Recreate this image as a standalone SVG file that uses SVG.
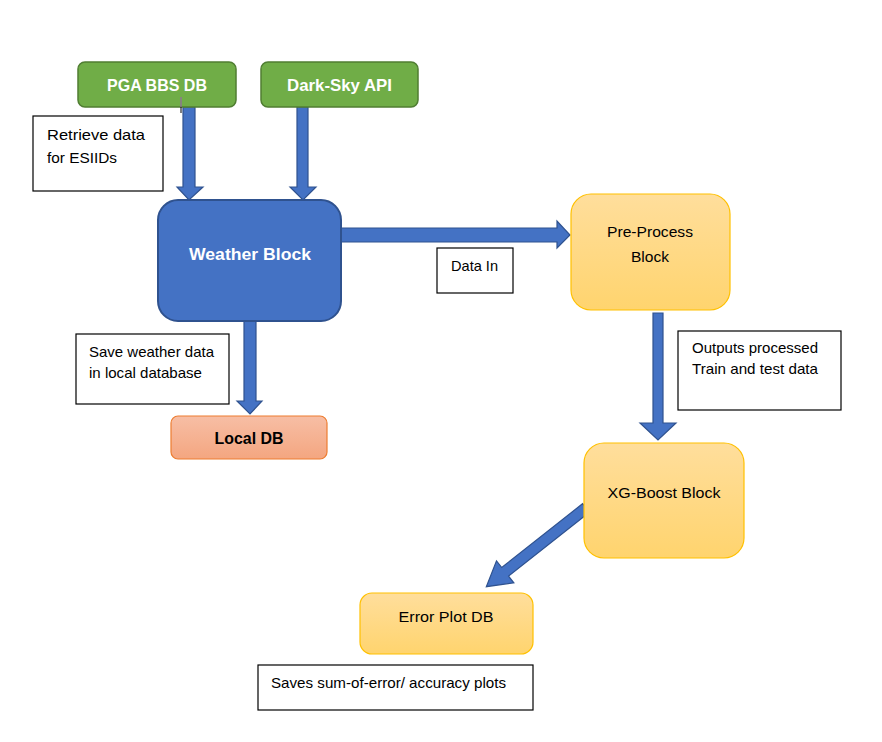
<svg xmlns="http://www.w3.org/2000/svg" width="882" height="742" viewBox="0 0 882 742">
<defs>
<linearGradient id="gold" x1="0" y1="0" x2="0" y2="1">
<stop offset="0" stop-color="#FFDE9C"/>
<stop offset="1" stop-color="#FFD46E"/>
</linearGradient>
<linearGradient id="salmon" x1="0" y1="0" x2="0" y2="1">
<stop offset="0" stop-color="#F7BEA5"/>
<stop offset="1" stop-color="#F4A680"/>
</linearGradient>
<style>
.green{fill:#70AD47;stroke:#507E32;stroke-width:1.5}
.blue{fill:#4472C4;stroke:#2F528F;stroke-width:2}
.gold{fill:url(#gold);stroke:#FFC000;stroke-width:1.2}
.salmon{fill:url(#salmon);stroke:#ED7D31;stroke-width:1.2}
.note{fill:#FFFFFF;stroke:#000000;stroke-width:1.2}
.arrow{fill:#4472C4;stroke:#2F528F;stroke-width:1.2}
text{font-family:"Liberation Sans",Arial,sans-serif}
.wb{fill:#FFFFFF;font-weight:bold;font-size:17px}
.kb{fill:#000000;font-weight:bold;font-size:17px}
.t{fill:#000000;font-size:15px}
</style>
</defs>
<rect width="882" height="742" fill="#FFFFFF"/>

<g id="connectors">
<path class="arrow" d="M183,107 L195,107 L195,187 L203,187 L189,200 L177,187 L183,187 Z"/>
<path class="arrow" d="M297,107 L308,107 L308,187 L316,187 L303,200 L290,187 L297,187 Z"/>
<path class="arrow" d="M341,228 L557,228 L557,221 L570,235 L557,248 L557,242 L341,242 Z"/>
<path class="arrow" d="M244,321 L256,321 L256,401 L262,401 L250,414 L237,401 L244,401 Z"/>
<path class="arrow" d="M653,313 L663,313 L663,423 L676,423 L658,440 L640,423 L653,423 Z"/>
<path class="arrow" transform="translate(586,508) rotate(141.7)" d="M0,-5.5 L103,-5.5 L103,-14 L127,0 L103,14 L103,5.5 L0,5.5 Z"/>
</g>

<g id="pga">
<rect class="green" x="78" y="62" width="158" height="45" rx="7"/>
<text class="wb" x="157" y="91" text-anchor="middle" textLength="100" lengthAdjust="spacingAndGlyphs">PGA BBS DB</text>
</g>
<line x1="181" y1="97" x2="181" y2="107" stroke="#9B59B6" stroke-width="1"/>
<line x1="181" y1="107" x2="181" y2="113" stroke="#000000" stroke-width="1"/>

<g id="darksky">
<rect class="green" x="261" y="62" width="157" height="45" rx="7"/>
<text class="wb" x="339.5" y="91" text-anchor="middle" textLength="105" lengthAdjust="spacingAndGlyphs">Dark-Sky API</text>
</g>

<g id="note-retrieve">
<rect class="note" x="33" y="116" width="130" height="75"/>
<text class="t" x="47" y="140" textLength="98" lengthAdjust="spacingAndGlyphs">Retrieve data</text>
<text class="t" x="47" y="163" textLength="70" lengthAdjust="spacingAndGlyphs">for ESIIDs</text>
</g>

<g id="weather">
<rect class="blue" x="158" y="200" width="183" height="121" rx="20"/>
<text class="wb" x="250" y="260" text-anchor="middle" textLength="122" lengthAdjust="spacingAndGlyphs">Weather Block</text>
</g>

<g id="note-datain">
<rect class="note" x="437" y="248" width="76" height="45"/>
<text class="t" x="451" y="271" textLength="47" lengthAdjust="spacingAndGlyphs">Data In</text>
</g>

<g id="preprocess">
<rect class="gold" x="571" y="194" width="159" height="116" rx="20"/>
<text class="t" x="650" y="237" text-anchor="middle" textLength="86" lengthAdjust="spacingAndGlyphs">Pre-Process</text>
<text class="t" x="650" y="262" text-anchor="middle" textLength="38" lengthAdjust="spacingAndGlyphs">Block</text>
</g>

<g id="note-save">
<rect class="note" x="76" y="334" width="153" height="70"/>
<text class="t" x="89" y="357" textLength="125" lengthAdjust="spacingAndGlyphs">Save weather data</text>
<text class="t" x="89" y="378" textLength="113" lengthAdjust="spacingAndGlyphs">in local database</text>
</g>

<g id="localdb">
<rect class="salmon" x="171" y="416" width="156" height="43" rx="7"/>
<text class="kb" x="249" y="444" text-anchor="middle" textLength="69" lengthAdjust="spacingAndGlyphs">Local DB</text>
</g>

<g id="note-outputs">
<rect class="note" x="678" y="331" width="163" height="79"/>
<text class="t" x="692" y="353" textLength="126" lengthAdjust="spacingAndGlyphs">Outputs processed</text>
<text class="t" x="692" y="374" textLength="126" lengthAdjust="spacingAndGlyphs">Train and test data</text>
</g>

<g id="xgboost">
<rect class="gold" x="584" y="443" width="160" height="115" rx="20"/>
<text class="t" x="664" y="498" text-anchor="middle" textLength="113" lengthAdjust="spacingAndGlyphs">XG-Boost Block</text>
</g>

<g id="errorplot">
<rect class="gold" x="360" y="593" width="173" height="61" rx="12"/>
<text class="t" x="446" y="622" text-anchor="middle" textLength="95" lengthAdjust="spacingAndGlyphs">Error Plot DB</text>
</g>

<g id="note-saves">
<rect class="note" x="258" y="665" width="275" height="45"/>
<text class="t" x="271" y="688" textLength="235" lengthAdjust="spacingAndGlyphs">Saves sum-of-error/ accuracy plots</text>
</g>
</svg>
